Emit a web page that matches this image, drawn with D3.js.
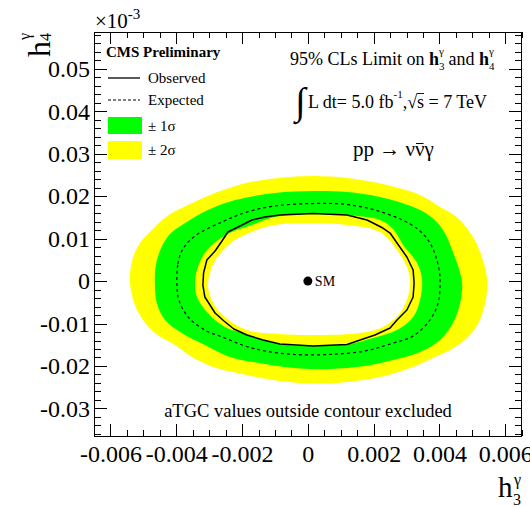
<!DOCTYPE html>
<html>
<head>
<meta charset="utf-8">
<script src="https://cdn.jsdelivr.net/npm/d3@7"></script>
<style>
  html, body { margin: 0; padding: 0; background: #fff; }
  svg { display: block; }
  text { font-family: "Liberation Serif", "Times New Roman", serif; fill: #000; }
</style>
</head>
<body>
<svg id="chart" width="530" height="507"></svg>
<script>
// ---- axis ticks ----
const xTickValues = [-0.006, -0.004, -0.002, 0, 0.002, 0.004, 0.006];
const yTickValues = [-0.03, -0.02, -0.01, 0, 0.01, 0.02, 0.03, 0.04, 0.05];
const xDomain = [-0.0065, 0.0065];
const yDomain = [-0.0365, 0.0587];

// ---- 95% CL contours in the (h3, h4) plane, points as [h3, h4] ----
// outer edge of the ±2σ band
const band2Outer = [
  [-0.00541, 0.00026], [-0.00532, 0.00544], [-0.00510, 0.00898], [-0.00486, 0.01110],
  [-0.00449, 0.01393], [-0.00413, 0.01605], [-0.00358, 0.01817], [-0.00297, 0.02029],
  [-0.00200, 0.02288], [-0.00091, 0.02429], [0.00016, 0.02476], [0.00119, 0.02429],
  [0.00241, 0.02264], [0.00341, 0.02029], [0.00402, 0.01746], [0.00456, 0.01487],
  [0.00502, 0.01039], [0.00529, 0.00568], [0.00545, 0.00026], [0.00539, -0.00516],
  [0.00520, -0.00964], [0.00487, -0.01317], [0.00438, -0.01600], [0.00380, -0.01812],
  [0.00320, -0.02024], [0.00219, -0.02260], [0.00119, -0.02377], [0.00016, -0.02413],
  [-0.00085, -0.02354], [-0.00185, -0.02213], [-0.00288, -0.02024], [-0.00352, -0.01788],
  [-0.00404, -0.01506], [-0.00465, -0.01223], [-0.00501, -0.00917], [-0.00528, -0.00516]
];
// outer edge of the ±1σ band
const band1Outer = [
  [-0.00465, -0.00068], [-0.00462, 0.00379], [-0.00446, 0.00780], [-0.00419, 0.01110],
  [-0.00373, 0.01369], [-0.00304, 0.01675], [-0.00221, 0.01911], [-0.00100, 0.02076],
  [0.00016, 0.02123], [0.00119, 0.02099], [0.00219, 0.01982], [0.00320, 0.01746],
  [0.00371, 0.01534], [0.00411, 0.01204], [0.00441, 0.00686], [0.00463, 0.00191],
  [0.00469, -0.00068], [0.00463, -0.00516], [0.00441, -0.00987], [0.00402, -0.01388],
  [0.00341, -0.01671], [0.00259, -0.01859], [0.00174, -0.02000], [0.00067, -0.02071],
  [-0.00024, -0.02059], [-0.00130, -0.01953], [-0.00237, -0.01788], [-0.00313, -0.01506],
  [-0.00383, -0.01223], [-0.00434, -0.00917], [-0.00459, -0.00516]
];
// expected limit
const expected = [
  [-0.00398, -0.00092], [-0.00395, 0.00403], [-0.00380, 0.00756], [-0.00343, 0.01063],
  [-0.00261, 0.01393], [-0.00185, 0.01628], [-0.00100, 0.01770], [0.00016, 0.01828],
  [0.00119, 0.01805], [0.00219, 0.01640], [0.00311, 0.01345], [0.00356, 0.01063],
  [0.00383, 0.00709], [0.00399, 0.00262], [0.00402, -0.00068], [0.00396, -0.00516],
  [0.00371, -0.00917], [0.00320, -0.01294], [0.00250, -0.01482], [0.00174, -0.01647],
  [0.00067, -0.01729], [-0.00039, -0.01729], [-0.00130, -0.01647], [-0.00191, -0.01529],
  [-0.00252, -0.01341], [-0.00313, -0.01152], [-0.00364, -0.00846], [-0.00392, -0.00445]
];
// inner edge of the ±1σ band
const band1Inner = [
  [-0.00343, -0.00092], [-0.00337, 0.00262], [-0.00313, 0.00662], [-0.00273, 0.00968],
  [-0.00231, 0.01157], [-0.00170, 0.01322], [-0.00100, 0.01510], [0.00016, 0.01593],
  [0.00119, 0.01557], [0.00219, 0.01440], [0.00259, 0.01228], [0.00292, 0.00827],
  [0.00332, 0.00426], [0.00347, 0.00026], [0.00341, -0.00445], [0.00320, -0.00846],
  [0.00271, -0.01152], [0.00198, -0.01341], [0.00119, -0.01494], [0.00016, -0.01529],
  [-0.00085, -0.01482], [-0.00191, -0.01246], [-0.00252, -0.01082], [-0.00304, -0.00752],
  [-0.00337, -0.00375]
];
// inner edge of the ±2σ band
const band2Inner = [
  [-0.00304, -0.00092], [-0.00297, 0.00191], [-0.00288, 0.00403], [-0.00270, 0.00615],
  [-0.00231, 0.00921], [-0.00182, 0.01122], [-0.00100, 0.01322], [0.00016, 0.01362],
  [0.00119, 0.01322], [0.00219, 0.01157], [0.00271, 0.00733], [0.00301, 0.00332],
  [0.00311, 0.00026], [0.00304, -0.00375], [0.00280, -0.00752], [0.00228, -0.01082],
  [0.00159, -0.01223], [0.00016, -0.01270], [-0.00085, -0.01246], [-0.00185, -0.01152],
  [-0.00252, -0.00846], [-0.00288, -0.00516]
];
// observed limit
const observed = [
  [-0.00319, -0.00092], [-0.00317, 0.00191], [-0.00307, 0.00497], [-0.00282, 0.00709],
  [-0.00261, 0.00945], [-0.00243, 0.01157], [-0.00212, 0.01275], [-0.00170, 0.01440],
  [-0.00130, 0.01510], [-0.00085, 0.01557], [0.00016, 0.01593], [0.00119, 0.01557],
  [0.00180, 0.01440], [0.00228, 0.01251], [0.00250, 0.01133], [0.00271, 0.00898],
  [0.00301, 0.00568], [0.00320, 0.00262], [0.00323, -0.00045], [0.00320, -0.00375],
  [0.00301, -0.00681], [0.00271, -0.00917], [0.00250, -0.01105], [0.00204, -0.01270],
  [0.00159, -0.01388], [0.00119, -0.01494], [0.00016, -0.01529], [-0.00085, -0.01482],
  [-0.00136, -0.01388], [-0.00185, -0.01270], [-0.00225, -0.01129], [-0.00255, -0.00940],
  [-0.00282, -0.00752], [-0.00313, -0.00375]
];
// Standard Model point
const smPoint = [0, 0];

// ---- layout ----
const frame = { left: 94, right: 521.7, top: 32, bottom: 436 };
const svg = d3.select("#chart");

const x = d3.scaleLinear().domain(xDomain).range([frame.left, frame.right]);
const y = d3.scaleLinear().domain(yDomain).range([frame.bottom, frame.top]);

const closed = d3.line().x(d => x(d[0])).y(d => y(d[1])).curve(d3.curveCatmullRomClosed.alpha(0.5));
const closedLin = d3.line().x(d => x(d[0])).y(d => y(d[1])).curve(d3.curveLinearClosed);

// bands: paint outer-to-inner
const plot = svg.append("g");
plot.append("path").attr("d", closed(band2Outer)).attr("fill", "#ffff00");
plot.append("path").attr("d", closed(band1Outer)).attr("fill", "#00ff00");
plot.append("path").attr("d", closed(band1Inner)).attr("fill", "#ffff00");
plot.append("path").attr("d", closed(band2Inner)).attr("fill", "#ffffff");

plot.append("path").attr("d", closed(expected))
  .attr("fill", "none").attr("stroke", "#000").attr("stroke-width", 1.2)
  .attr("stroke-dasharray", "3,3");
plot.append("path").attr("d", closedLin(observed))
  .attr("fill", "none").attr("stroke", "#000").attr("stroke-width", 1.5)
  .attr("stroke-linejoin", "round");

plot.append("circle").attr("cx", x(smPoint[0])).attr("cy", y(smPoint[1])).attr("r", 4.5).attr("fill", "#000");
plot.append("text").attr("x", x(smPoint[0]) + 7).attr("y", y(smPoint[1]) + 5)
  .style("font-size", "14px").text("SM");

// ---- axes (ticks point into the frame) ----
const fmtX = d => d === 0 ? "0" : d.toFixed(3);
const fmtY = d => d === 0 ? "0" : d.toFixed(2);
const xMinor = d3.range(-13, 14).map(i => i * 0.0005);
const yMinor = d3.range(-18, 30).map(i => i * 0.002);

function styleAxis(g) {
  g.select(".domain").remove();
  g.selectAll("line").attr("stroke", "#000").attr("shape-rendering", "crispEdges");
}

const gxMinor = svg.append("g").attr("transform", `translate(0,${frame.bottom})`)
  .call(d3.axisBottom(x).tickValues(xMinor).tickSize(-6).tickFormat(""));
styleAxis(gxMinor);
const gx = svg.append("g").attr("transform", `translate(0,${frame.bottom})`)
  .call(d3.axisBottom(x).tickValues(xTickValues).tickSize(-12).tickFormat(fmtX));
styleAxis(gx);
gx.selectAll("text").attr("y", 26).attr("dy", null).style("font-size", "24px");

const gxtMinor = svg.append("g").attr("transform", `translate(0,${frame.top})`)
  .call(d3.axisTop(x).tickValues(xMinor).tickSize(-6).tickFormat(""));
styleAxis(gxtMinor);
const gxt = svg.append("g").attr("transform", `translate(0,${frame.top})`)
  .call(d3.axisTop(x).tickValues(xTickValues).tickSize(-12).tickFormat(""));
styleAxis(gxt);

const gyMinor = svg.append("g").attr("transform", `translate(${frame.left},0)`)
  .call(d3.axisLeft(y).tickValues(yMinor).tickSize(-7).tickFormat(""));
styleAxis(gyMinor);
const gy = svg.append("g").attr("transform", `translate(${frame.left},0)`)
  .call(d3.axisLeft(y).tickValues(yTickValues).tickSize(-13).tickPadding(4).tickFormat(fmtY));
styleAxis(gy);
gy.selectAll("text").style("font-size", "24px");

const gyrMinor = svg.append("g").attr("transform", `translate(${frame.right},0)`)
  .call(d3.axisRight(y).tickValues(yMinor).tickSize(-7).tickFormat(""));
styleAxis(gyrMinor);
const gyr = svg.append("g").attr("transform", `translate(${frame.right},0)`)
  .call(d3.axisRight(y).tickValues(yTickValues).tickSize(-13).tickFormat(""));
styleAxis(gyr);

svg.append("rect")
  .attr("x", frame.left).attr("y", frame.top)
  .attr("width", frame.right - frame.left).attr("height", frame.bottom - frame.top)
  .attr("fill", "none").attr("stroke", "#000").attr("stroke-width", 1)
  .attr("shape-rendering", "crispEdges");

// exponent marker
const expo = svg.append("text").attr("x", 95).attr("y", 28).style("font-size", "21px");
expo.append("tspan").text("×10");
expo.append("tspan").attr("dy", -9).style("font-size", "15px").text("-3");

// axis titles
const xt = svg.append("g");
xt.append("text").attr("x", 498).attr("y", 497).style("font-size", "29px").text("h");
xt.append("text").attr("x", 513).attr("y", 505).style("font-size", "16px").text("3");
xt.append("text").attr("x", 514).attr("y", 485).style("font-size", "16px").text("γ");

const yt = svg.append("g").attr("transform", "translate(50,57) rotate(-90)");
yt.append("text").attr("x", 0).attr("y", 0).style("font-size", "32px").text("h");
yt.append("text").attr("x", 16).attr("y", 1).style("font-size", "16px").text("4");
yt.append("text").attr("x", 17).attr("y", -20).style("font-size", "16px").text("γ");

// ---- legend ----
const leg = svg.append("g");
leg.append("text").attr("x", 106).attr("y", 57).style("font-size", "15px").style("font-weight", "bold").text("CMS Preliminary");
leg.append("line").attr("x1", 108).attr("x2", 140).attr("y1", 78).attr("y2", 78).attr("stroke", "#000").attr("stroke-width", 1.3);
leg.append("text").attr("x", 148).attr("y", 83).style("font-size", "15px").text("Observed");
leg.append("line").attr("x1", 108).attr("x2", 140).attr("y1", 100).attr("y2", 100).attr("stroke", "#000").attr("stroke-width", 1.2).attr("stroke-dasharray", "3,2");
leg.append("text").attr("x", 148).attr("y", 105).style("font-size", "15px").text("Expected");
leg.append("rect").attr("x", 108).attr("y", 117).attr("width", 34).attr("height", 17).attr("fill", "#00ff00");
leg.append("text").attr("x", 148).attr("y", 131).style("font-size", "15px").text("± 1σ");
leg.append("rect").attr("x", 108).attr("y", 141).attr("width", 34).attr("height", 18).attr("fill", "#ffff00");
leg.append("text").attr("x", 148).attr("y", 155).style("font-size", "15px").text("± 2σ");

// ---- annotations ----
const title = svg.append("text").attr("x", 290).attr("y", 65).style("font-size", "18px");
title.append("tspan").text("95% CLs Limit on ");
title.append("tspan").style("font-weight", "bold").text("h");
title.append("tspan").attr("dy", 5).style("font-size", "11px").text("3");
title.append("tspan").attr("dx", -5.5).attr("dy", -15).style("font-size", "11px").text("γ");
title.append("tspan").attr("dy", 10).text(" and ");
title.append("tspan").style("font-weight", "bold").text("h");
title.append("tspan").attr("dy", 5).style("font-size", "11px").text("4");
title.append("tspan").attr("dx", -5.5).attr("dy", -15).style("font-size", "11px").text("γ");

svg.append("text").attr("x", 295).attr("y", 114).style("font-size", "38px").text("∫");
const lumi = svg.append("text").attr("x", 308).attr("y", 108).style("font-size", "18px");
lumi.append("tspan").text("L dt= 5.0 fb");
lumi.append("tspan").attr("dy", -10).style("font-size", "11px").text("-1");
lumi.append("tspan").attr("dy", 10).text(",√s = 7 TeV");
{
  const node = lumi.node();
  const str = node.textContent;
  const iRoot = str.indexOf("√");
  const eR = node.getExtentOfChar(iRoot);
  const eS = node.getExtentOfChar(iRoot + 1);
  svg.append("line").attr("x1", eR.x + eR.width - 0.5).attr("x2", eS.x + eS.width)
    .attr("y1", 108 - 14.5).attr("y2", 108 - 14.5).attr("stroke", "#000").attr("stroke-width", 0.9);
}

const proc = svg.append("text").attr("x", 353).attr("y", 156).style("font-size", "21px").text("pp → ννγ");
{
  const node = proc.node();
  const e = node.getExtentOfChar(6);
  svg.append("line").attr("x1", e.x + 1).attr("x2", e.x + e.width - 1)
    .attr("y1", 156 - 12.5).attr("y2", 156 - 12.5).attr("stroke", "#000").attr("stroke-width", 1);
}

svg.append("text").attr("x", 308).attr("y", 417).attr("text-anchor", "middle")
  .style("font-size", "18.5px").text("aTGC values outside contour excluded");
</script>
</body>
</html>
